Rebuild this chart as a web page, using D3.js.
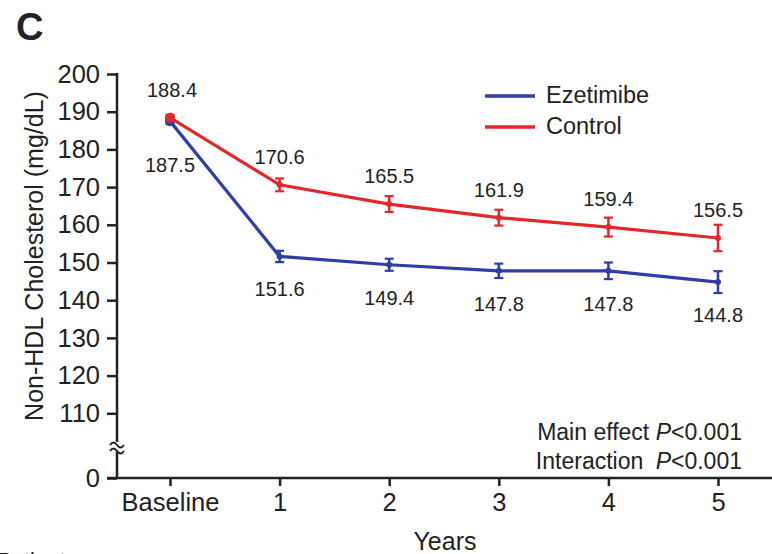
<!DOCTYPE html>
<html>
<head>
<meta charset="utf-8">
<script src="https://cdn.jsdelivr.net/npm/d3@7"></script>
<style>
  body { margin: 0; background: #fff; }
  text { font-family: "Liberation Sans", Arial, sans-serif; fill: #222; }
</style>
</head>
<body>
<div id="chart"></div>
<script>
// data
var years = ["Baseline", "1", "2", "3", "4", "5"];
var ezetimibe = [187.5, 151.6, 149.4, 147.8, 147.8, 144.8];
var ezetimibeErr = [0.8, 1.5, 1.6, 1.9, 2.2, 2.9];
var control = [188.4, 170.6, 165.5, 161.9, 159.4, 156.5];
var controlErr = [0.8, 1.7, 2.1, 2.1, 2.5, 3.5];
var yTicks = [0, 110, 120, 130, 140, 150, 160, 170, 180, 190, 200];

var blue = "#2f3ea6", red = "#e2282b";

var svg = d3.select("#chart")
  .append("svg")
  .attr("width", 772).attr("height", 554);

// broken y scale: 0 at bottom, then 100..200
var y = d3.scaleLinear().domain([0, 100, 200]).range([478, 451, 74]);
var x = d3.scalePoint().domain(years).range([170, 718]);

// y axis
var yAxis = svg.append("g")
  .attr("transform", "translate(117,0)")
  .call(d3.axisLeft(y).tickValues(yTicks).tickSize(10).tickPadding(7));
yAxis.select(".domain").remove();
yAxis.selectAll("line").attr("stroke", "#222").attr("stroke-width", 2.5);
yAxis.selectAll("text").style("font-size", "25.5px").attr("fill", "#222");

svg.append("line")
  .attr("x1", 117).attr("x2", 117)
  .attr("y1", y(200) - 1).attr("y2", 479)
  .attr("stroke", "#222").attr("stroke-width", 2.5);

// x axis
var xAxis = svg.append("g")
  .attr("transform", "translate(0,478)")
  .call(d3.axisBottom(x).tickSize(8).tickPadding(7));
xAxis.select(".domain").remove();
xAxis.selectAll("line").attr("stroke", "#222").attr("stroke-width", 2.5);
xAxis.selectAll("text").style("font-size", "25.5px").attr("fill", "#222");

svg.append("line")
  .attr("x1", 107).attr("x2", 772)
  .attr("y1", 478).attr("y2", 478)
  .attr("stroke", "#222").attr("stroke-width", 2.5);

// axis break mark
svg.append("rect")
  .attr("x", 110).attr("y", 442).attr("width", 14).attr("height", 9)
  .attr("fill", "#fff");
[443, 449].forEach(function(yy) {
  svg.append("path")
    .attr("d", "M110," + (yy + 2) + " q3.5,-5 7,0 t7,0")
    .attr("fill", "none").attr("stroke", "#222").attr("stroke-width", 1.8);
});

// series
var line = d3.line().x(function(d, i) { return x(years[i]); }).y(function(d) { return y(d); });

function drawSeries(vals, errs, color) {
  var g = svg.append("g");
  g.append("path")
    .datum(vals)
    .attr("d", line)
    .attr("fill", "none")
    .attr("stroke", color)
    .attr("stroke-width", 3.2);

  vals.forEach(function(v, i) {
    var cx = x(years[i]);
    g.append("line")
      .attr("x1", cx).attr("x2", cx)
      .attr("y1", y(v - errs[i])).attr("y2", y(v + errs[i]))
      .attr("stroke", color).attr("stroke-width", 2.5);
    [v - errs[i], v + errs[i]].forEach(function(e) {
      g.append("line")
        .attr("x1", cx - 4.5).attr("x2", cx + 4.5)
        .attr("y1", y(e)).attr("y2", y(e))
        .attr("stroke", color).attr("stroke-width", 2.2);
    });
    g.append("circle")
      .attr("cx", cx).attr("cy", y(v))
      .attr("r", i == 0 ? 5 : 3)
      .attr("fill", color);
  });
}

drawSeries(ezetimibe, ezetimibeErr, blue);
drawSeries(control, controlErr, red);

// value labels
svg.selectAll(".lblC")
  .data(control).enter()
  .append("text")
  .attr("x", function(d, i) { return x(years[i]) + (i == 0 ? 2 : 0); })
  .attr("y", function(d) { return y(d) - 21; })
  .attr("text-anchor", "middle")
  .style("font-size", "20px")
  .attr("fill", "#333")
  .text(function(d) { return d.toFixed(1); });

svg.selectAll(".lblE")
  .data(ezetimibe).enter()
  .append("text")
  .attr("x", function(d, i) { return x(years[i]); })
  .attr("y", function(d, i) { return y(d) + (i == 0 ? 51 : 40); })
  .attr("text-anchor", "middle")
  .style("font-size", "20px")
  .attr("fill", "#333")
  .text(function(d) { return d.toFixed(1); });

// legend
var legend = [["Ezetimibe", blue, 95], ["Control", red, 126]];
legend.forEach(function(l) {
  svg.append("line")
    .attr("x1", 485).attr("x2", 535)
    .attr("y1", l[2] + 1).attr("y2", l[2] + 1)
    .attr("stroke", l[1]).attr("stroke-width", 3.5);
  svg.append("text")
    .attr("x", 546).attr("y", l[2] + 8)
    .style("font-size", "23.5px")
    .text(l[0]);
});

// stats
var stats = svg.append("g").style("font-size", "23px");
var t1 = stats.append("text").attr("x", 742).attr("y", 440).attr("text-anchor", "end");
t1.append("tspan").text("Main effect ");
t1.append("tspan").style("font-style", "italic").text("P");
t1.append("tspan").text("<0.001");
var t2 = stats.append("text").attr("x", 742).attr("y", 469).attr("text-anchor", "end");
t2.append("tspan").text("Interaction ");
t2.append("tspan").attr("dx", 6).style("font-style", "italic").text("P");
t2.append("tspan").text("<0.001");

// titles
svg.append("text")
  .attr("transform", "translate(43,256) rotate(-90)")
  .attr("text-anchor", "middle")
  .style("font-size", "25px")
  .text("Non-HDL Cholesterol (mg/dL)");

svg.append("text")
  .attr("x", 445).attr("y", 550)
  .attr("text-anchor", "middle")
  .style("font-size", "25px")
  .text("Years");

svg.append("text")
  .attr("x", 16).attr("y", 40)
  .style("font-size", "38px").style("font-weight", "bold")
  .text("C");

svg.append("text")
  .attr("x", -3).attr("y", 568)
  .style("font-size", "22px")
  .text("Patients");
</script>
</body>
</html>
